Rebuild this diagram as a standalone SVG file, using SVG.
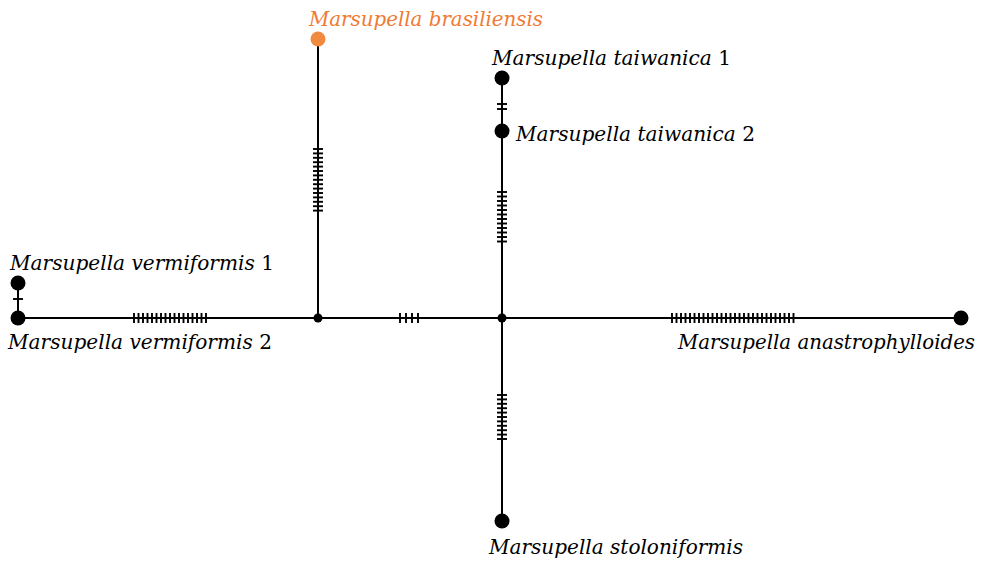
<svg xmlns="http://www.w3.org/2000/svg" width="983" height="564" viewBox="0 0 983 564">
  <defs>
    <style>
      .edge { stroke: #000; stroke-width: 2; fill: none; }
      .tick { stroke: #000; stroke-width: 1.9; }
      .hap { fill: #000; }
      .hap-br { fill: #f08a3e; }
      .lbl { font-family: 'DejaVu Serif', 'Liberation Serif', serif; font-size: 21px; fill: #000; }
      .sp { font-style: italic; }
      .lbl-br { fill: #f07a35; }
    </style>
  </defs>
  <rect width="983" height="564" fill="#fff"/>

  <g id="connectors">
    <!-- main edges -->
    <line class="edge" x1="18" y1="318" x2="961" y2="318"/>
    <line class="edge" x1="318" y1="39" x2="318" y2="318"/>
    <line class="edge" x1="502" y1="78" x2="502" y2="521"/>
    <line class="edge" x1="18" y1="283" x2="18" y2="318"/>

    <!-- mutation ticks: brasiliensis branch (15) -->
    <g class="tick" id="ticks-br">
      <line x1="313" y1="149" x2="323" y2="149"/><line x1="313" y1="153.4" x2="323" y2="153.4"/>
      <line x1="313" y1="157.8" x2="323" y2="157.8"/><line x1="313" y1="162.2" x2="323" y2="162.2"/>
      <line x1="313" y1="166.6" x2="323" y2="166.6"/><line x1="313" y1="171" x2="323" y2="171"/>
      <line x1="313" y1="175.4" x2="323" y2="175.4"/><line x1="313" y1="179.8" x2="323" y2="179.8"/>
      <line x1="313" y1="184.2" x2="323" y2="184.2"/><line x1="313" y1="188.6" x2="323" y2="188.6"/>
      <line x1="313" y1="193" x2="323" y2="193"/><line x1="313" y1="197.4" x2="323" y2="197.4"/>
      <line x1="313" y1="201.8" x2="323" y2="201.8"/><line x1="313" y1="206.2" x2="323" y2="206.2"/>
      <line x1="313" y1="210.6" x2="323" y2="210.6"/>
    </g>
    <!-- vermiformis branch (17) -->
    <g class="tick" id="ticks-ve">
      <line x1="134" y1="313" x2="134" y2="323"/><line x1="138.5" y1="313" x2="138.5" y2="323"/>
      <line x1="143" y1="313" x2="143" y2="323"/><line x1="147.5" y1="313" x2="147.5" y2="323"/>
      <line x1="152" y1="313" x2="152" y2="323"/><line x1="156.5" y1="313" x2="156.5" y2="323"/>
      <line x1="161" y1="313" x2="161" y2="323"/><line x1="165.5" y1="313" x2="165.5" y2="323"/>
      <line x1="170" y1="313" x2="170" y2="323"/><line x1="174.5" y1="313" x2="174.5" y2="323"/>
      <line x1="179" y1="313" x2="179" y2="323"/><line x1="183.5" y1="313" x2="183.5" y2="323"/>
      <line x1="188" y1="313" x2="188" y2="323"/><line x1="192.5" y1="313" x2="192.5" y2="323"/>
      <line x1="197" y1="313" x2="197" y2="323"/><line x1="201.5" y1="313" x2="201.5" y2="323"/>
      <line x1="206" y1="313" x2="206" y2="323"/>
    </g>
    <!-- between junctions (4) -->
    <g class="tick" id="ticks-mid">
      <line x1="400" y1="313" x2="400" y2="323"/><line x1="406" y1="313" x2="406" y2="323"/>
      <line x1="412" y1="313" x2="412" y2="323"/><line x1="418" y1="313" x2="418" y2="323"/>
    </g>
    <!-- taiwanica 1 - 2 (2) -->
    <g class="tick" id="ticks-tw12">
      <line x1="497" y1="104" x2="507" y2="104"/><line x1="497" y1="109" x2="507" y2="109"/>
    </g>
    <!-- taiwanica branch (12) -->
    <g class="tick" id="ticks-tw">
      <line x1="497" y1="192" x2="507" y2="192"/><line x1="497" y1="196.5" x2="507" y2="196.5"/>
      <line x1="497" y1="201" x2="507" y2="201"/><line x1="497" y1="205.5" x2="507" y2="205.5"/>
      <line x1="497" y1="210" x2="507" y2="210"/><line x1="497" y1="214.5" x2="507" y2="214.5"/>
      <line x1="497" y1="219" x2="507" y2="219"/><line x1="497" y1="223.5" x2="507" y2="223.5"/>
      <line x1="497" y1="228" x2="507" y2="228"/><line x1="497" y1="232.5" x2="507" y2="232.5"/>
      <line x1="497" y1="237" x2="507" y2="237"/><line x1="497" y1="241.5" x2="507" y2="241.5"/>
    </g>
    <!-- anastrophylloides branch (28) -->
    <g class="tick" id="ticks-an">
      <line x1="672" y1="313" x2="672" y2="323"/><line x1="676.5" y1="313" x2="676.5" y2="323"/>
      <line x1="681" y1="313" x2="681" y2="323"/><line x1="685.5" y1="313" x2="685.5" y2="323"/>
      <line x1="690" y1="313" x2="690" y2="323"/><line x1="694.5" y1="313" x2="694.5" y2="323"/>
      <line x1="699" y1="313" x2="699" y2="323"/><line x1="703.5" y1="313" x2="703.5" y2="323"/>
      <line x1="708" y1="313" x2="708" y2="323"/><line x1="712.5" y1="313" x2="712.5" y2="323"/>
      <line x1="717" y1="313" x2="717" y2="323"/><line x1="721.5" y1="313" x2="721.5" y2="323"/>
      <line x1="726" y1="313" x2="726" y2="323"/><line x1="730.5" y1="313" x2="730.5" y2="323"/>
      <line x1="735" y1="313" x2="735" y2="323"/><line x1="739.5" y1="313" x2="739.5" y2="323"/>
      <line x1="744" y1="313" x2="744" y2="323"/><line x1="748.5" y1="313" x2="748.5" y2="323"/>
      <line x1="753" y1="313" x2="753" y2="323"/><line x1="757.5" y1="313" x2="757.5" y2="323"/>
      <line x1="762" y1="313" x2="762" y2="323"/><line x1="766.5" y1="313" x2="766.5" y2="323"/>
      <line x1="771" y1="313" x2="771" y2="323"/><line x1="775.5" y1="313" x2="775.5" y2="323"/>
      <line x1="780" y1="313" x2="780" y2="323"/><line x1="784.5" y1="313" x2="784.5" y2="323"/>
      <line x1="789" y1="313" x2="789" y2="323"/><line x1="793.5" y1="313" x2="793.5" y2="323"/>
    </g>
    <!-- stoloniformis branch (11) -->
    <g class="tick" id="ticks-st">
      <line x1="497" y1="395" x2="507" y2="395"/><line x1="497" y1="399.4" x2="507" y2="399.4"/>
      <line x1="497" y1="403.8" x2="507" y2="403.8"/><line x1="497" y1="408.2" x2="507" y2="408.2"/>
      <line x1="497" y1="412.6" x2="507" y2="412.6"/><line x1="497" y1="417" x2="507" y2="417"/>
      <line x1="497" y1="421.4" x2="507" y2="421.4"/><line x1="497" y1="425.8" x2="507" y2="425.8"/>
      <line x1="497" y1="430.2" x2="507" y2="430.2"/><line x1="497" y1="434.6" x2="507" y2="434.6"/>
      <line x1="497" y1="439" x2="507" y2="439"/>
    </g>
    <!-- vermiformis 1 - 2 (1) -->
    <g class="tick" id="ticks-ve12">
      <line x1="13" y1="299" x2="23" y2="299"/>
    </g>
  </g>

  <!-- median vectors -->
  <g id="mv1"><circle class="hap" cx="318" cy="318" r="4.5"/></g>
  <g id="mv2"><circle class="hap" cx="502" cy="318" r="4.5"/></g>

  <g id="brasiliensis">
    <circle class="hap-br" cx="318" cy="39" r="7.5"/>
    <text class="lbl lbl-br sp" x="309" y="26" textLength="234" lengthAdjust="spacingAndGlyphs">Marsupella brasiliensis</text>
  </g>
  <g id="taiwanica1">
    <circle class="hap" cx="502" cy="78" r="7.5"/>
    <text class="lbl" x="492" y="65" textLength="239" lengthAdjust="spacingAndGlyphs"><tspan class="sp">Marsupella taiwanica</tspan> 1</text>
  </g>
  <g id="taiwanica2">
    <circle class="hap" cx="502" cy="131" r="7.5"/>
    <text class="lbl" x="516" y="141" textLength="239" lengthAdjust="spacingAndGlyphs"><tspan class="sp">Marsupella taiwanica</tspan> 2</text>
  </g>
  <g id="vermiformis1">
    <circle class="hap" cx="18" cy="283" r="7.5"/>
    <text class="lbl" x="10" y="270" textLength="264" lengthAdjust="spacingAndGlyphs"><tspan class="sp">Marsupella vermiformis</tspan> 1</text>
  </g>
  <g id="vermiformis2">
    <circle class="hap" cx="18" cy="318" r="7.5"/>
    <text class="lbl" x="8" y="349" textLength="264" lengthAdjust="spacingAndGlyphs"><tspan class="sp">Marsupella vermiformis</tspan> 2</text>
  </g>
  <g id="anastrophylloides">
    <circle class="hap" cx="961" cy="318" r="7.5"/>
    <text class="lbl sp" x="975" y="349" text-anchor="end" textLength="297" lengthAdjust="spacingAndGlyphs">Marsupella anastrophylloides</text>
  </g>
  <g id="stoloniformis">
    <circle class="hap" cx="502" cy="521" r="7.5"/>
    <text class="lbl sp" x="489" y="554" textLength="254" lengthAdjust="spacingAndGlyphs">Marsupella stoloniformis</text>
  </g>
</svg>
